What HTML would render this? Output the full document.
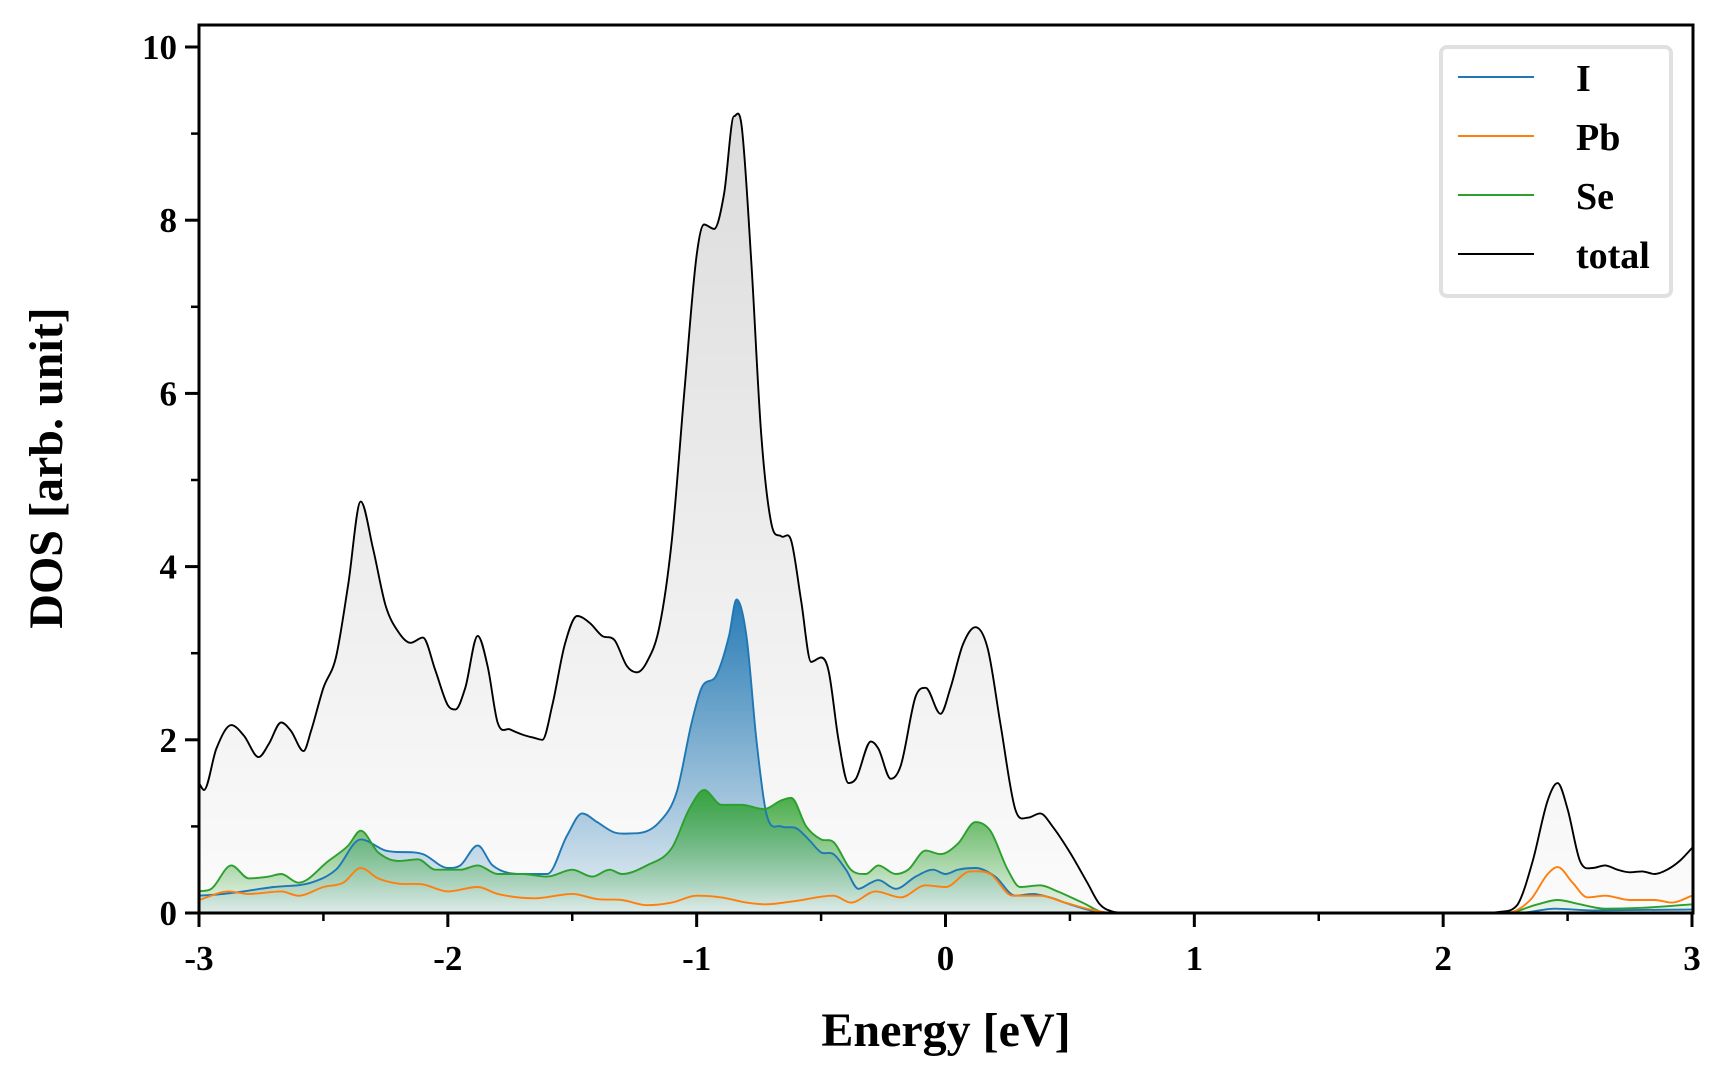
<!DOCTYPE html>
<html><head><meta charset="utf-8"><style>
html,body{margin:0;padding:0;background:#fff;}
svg{display:block;font-family:"Liberation Serif",serif;font-weight:bold;}
</style></head><body>
<svg id="chart" width="1728" height="1080" viewBox="0 0 1728 1080" xmlns="http://www.w3.org/2000/svg">
<defs>
<linearGradient id="gTot" x1="0" y1="0" x2="0" y2="1"><stop offset="0" stop-color="#dcdcdc"/><stop offset="1" stop-color="#fbfbfb"/></linearGradient>
<linearGradient id="gI" x1="0" y1="0" x2="0" y2="1"><stop offset="0" stop-color="#1f77b4" stop-opacity="0.95"/><stop offset="1" stop-color="#1f77b4" stop-opacity="0.08"/></linearGradient>
<linearGradient id="gSe" x1="0" y1="0" x2="0" y2="1"><stop offset="0" stop-color="#2ca02c" stop-opacity="0.9"/><stop offset="1" stop-color="#2ca02c" stop-opacity="0.05"/></linearGradient>
<clipPath id="plotClip"><rect x="199" y="25" width="1494" height="889"/></clipPath>
</defs>
<g id="fills" clip-path="url(#plotClip)"></g>
<g id="lines" clip-path="url(#plotClip)"></g>
<g id="axes"></g>
<rect x="1441" y="47" width="230" height="249" rx="6" fill="#fff" stroke="#e0e0e0" stroke-width="4"/>
<line x1="1458" y1="77" x2="1534" y2="77" stroke="#1f77b4" stroke-width="2"/>
<text x="1576" y="91" font-size="38">I</text>
<line x1="1458" y1="136" x2="1534" y2="136" stroke="#ff7f0e" stroke-width="2"/>
<text x="1576" y="150" font-size="38">Pb</text>
<line x1="1458" y1="195" x2="1534" y2="195" stroke="#2ca02c" stroke-width="2"/>
<text x="1576" y="209" font-size="38">Se</text>
<line x1="1458" y1="254" x2="1534" y2="254" stroke="#000" stroke-width="2"/>
<text x="1576" y="268" font-size="38">total</text>
<text x="946" y="1046" font-size="48" text-anchor="middle">Energy [eV]</text>
<text x="0" y="0" font-size="48" text-anchor="middle" transform="translate(62,468) rotate(-90)">DOS [arb. unit]</text>
</svg>
<script>
const totalE=[-3,-2.98,-2.93,-2.87,-2.82,-2.76,-2.72,-2.67,-2.63,-2.58,-2.55,-2.5,-2.45,-2.4,-2.35,-2.3,-2.25,-2.2,-2.15,-2.1,-2.05,-2.0,-1.97,-1.93,-1.88,-1.84,-1.8,-1.75,-1.7,-1.65,-1.62,-1.58,-1.53,-1.48,-1.43,-1.38,-1.33,-1.28,-1.24,-1.2,-1.15,-1.1,-1.05,-1.0,-0.97,-0.93,-0.89,-0.85,-0.82,-0.78,-0.74,-0.7,-0.66,-0.62,-0.58,-0.54,-0.5,-0.47,-0.43,-0.39,-0.36,-0.3,-0.27,-0.22,-0.18,-0.12,-0.08,-0.02,0.02,0.07,0.12,0.17,0.22,0.28,0.33,0.38,0.43,0.5,0.57,0.62,0.68,0.75,2.15,2.22,2.3,2.36,2.42,2.46,2.5,2.55,2.6,2.65,2.7,2.75,2.8,2.85,2.9,2.95,3.0];
const totalV=[1.5,1.42,1.9,2.17,2.05,1.8,1.95,2.2,2.1,1.87,2.1,2.6,2.95,3.8,4.75,4.2,3.55,3.25,3.12,3.18,2.8,2.4,2.35,2.6,3.2,2.85,2.2,2.12,2.06,2.02,2.0,2.4,3.1,3.43,3.35,3.2,3.15,2.85,2.78,2.9,3.3,4.3,6.0,7.6,7.95,7.9,8.3,9.2,9.1,7.5,5.5,4.5,4.35,4.3,3.6,2.9,2.95,2.8,2.0,1.5,1.55,1.98,1.9,1.55,1.7,2.5,2.6,2.3,2.6,3.1,3.3,3.05,2.2,1.2,1.1,1.15,1.0,0.7,0.35,0.1,0.01,0,0,0.01,0.1,0.6,1.3,1.5,1.2,0.6,0.52,0.55,0.5,0.47,0.48,0.45,0.5,0.6,0.75];
const iE=[-3,-2.9,-2.7,-2.55,-2.45,-2.35,-2.25,-2.1,-2.0,-1.95,-1.88,-1.82,-1.7,-1.6,-1.52,-1.46,-1.4,-1.33,-1.25,-1.15,-1.08,-1.02,-0.98,-0.92,-0.87,-0.84,-0.8,-0.76,-0.72,-0.66,-0.6,-0.55,-0.5,-0.45,-0.4,-0.35,-0.3,-0.27,-0.2,-0.12,-0.05,0.0,0.05,0.12,0.2,0.28,0.35,0.42,0.5,0.6,0.68,2.3,2.45,2.6,3.0];
const iV=[0.2,0.22,0.3,0.35,0.5,0.85,0.72,0.68,0.52,0.55,0.78,0.55,0.45,0.45,0.9,1.15,1.05,0.93,0.92,1.05,1.4,2.2,2.6,2.75,3.2,3.62,3.2,2.0,1.15,1.0,0.98,0.85,0.7,0.68,0.5,0.28,0.35,0.38,0.28,0.42,0.5,0.45,0.5,0.52,0.42,0.2,0.22,0.18,0.1,0.02,0,0,0.05,0.03,0.04];
const pbE=[-3,-2.88,-2.8,-2.67,-2.6,-2.5,-2.42,-2.35,-2.28,-2.2,-2.1,-2.0,-1.88,-1.8,-1.65,-1.5,-1.4,-1.3,-1.2,-1.1,-1.0,-0.9,-0.8,-0.72,-0.6,-0.45,-0.38,-0.28,-0.18,-0.08,0.0,0.1,0.18,0.27,0.38,0.48,0.6,0.68,2.25,2.35,2.42,2.46,2.52,2.58,2.65,2.75,2.85,2.92,3.0];
const pbV=[0.15,0.25,0.22,0.25,0.2,0.3,0.35,0.52,0.4,0.34,0.33,0.25,0.3,0.22,0.17,0.22,0.16,0.15,0.09,0.12,0.2,0.18,0.12,0.1,0.14,0.2,0.12,0.25,0.18,0.32,0.3,0.48,0.45,0.2,0.2,0.12,0.03,0,0,0.15,0.45,0.53,0.35,0.18,0.2,0.15,0.15,0.12,0.2];
const seE=[-3,-2.95,-2.87,-2.8,-2.72,-2.67,-2.6,-2.48,-2.4,-2.35,-2.28,-2.2,-2.12,-2.05,-1.95,-1.88,-1.8,-1.7,-1.6,-1.5,-1.42,-1.35,-1.3,-1.2,-1.1,-1.03,-0.97,-0.9,-0.82,-0.73,-0.66,-0.62,-0.56,-0.5,-0.45,-0.38,-0.32,-0.27,-0.2,-0.15,-0.08,-0.02,0.05,0.12,0.18,0.25,0.3,0.38,0.45,0.55,0.65,2.25,2.38,2.46,2.55,2.65,2.8,3.0];
const seV=[0.25,0.28,0.55,0.4,0.42,0.45,0.35,0.6,0.78,0.95,0.7,0.6,0.62,0.5,0.5,0.55,0.45,0.45,0.42,0.5,0.42,0.5,0.45,0.55,0.75,1.2,1.42,1.25,1.25,1.2,1.3,1.33,1.0,0.85,0.82,0.5,0.45,0.55,0.45,0.5,0.72,0.68,0.8,1.05,0.95,0.5,0.3,0.32,0.25,0.12,0,0,0.1,0.15,0.1,0.05,0.06,0.1];
const yTicks=[0,2,4,6,8,10];
const xTicks=[-3,-2,-1,0,1,2,3];

const X0=199,X1=1692,Y0=913,Y10=47;
const xs=e=>X0+(e+3)/6*(X1-X0);
const ys=v=>Y0+(Y10-Y0)*v/10;
const NS="http://www.w3.org/2000/svg";
function smooth(E,V){
  const n=E.length,p=E.map((e,i)=>[xs(e),ys(V[i])]);
  const d=[];for(let i=0;i<n-1;i++)d.push((p[i+1][1]-p[i][1])/(p[i+1][0]-p[i][0]));
  const m=p.map((_,i)=>{
    if(i===0)return d[0];if(i===n-1)return d[n-2];
    if(d[i-1]*d[i]<=0)return 0;
    return (d[i-1]+d[i])/2;
  });
  let s="M"+p[0][0].toFixed(1)+","+p[0][1].toFixed(1);
  for(let i=0;i<n-1;i++){
    const h=(p[i+1][0]-p[i][0])/3;
    const c1y=Math.min(p[i][1]+m[i]*h,Y0),c2y=Math.min(p[i+1][1]-m[i+1]*h,Y0);
    s+=" C"+(p[i][0]+h).toFixed(1)+","+c1y.toFixed(1)+" "+(p[i+1][0]-h).toFixed(1)+","+c2y.toFixed(1)+" "+p[i+1][0].toFixed(1)+","+p[i+1][1].toFixed(1);
  }
  return s;
}
const fills=document.getElementById('fills'),lines=document.getElementById('lines'),axes=document.getElementById('axes');
function series(E,V,color,grad,name){
  const d=smooth(E,V);
  if(grad){
    const f=document.createElementNS(NS,'path');
    f.setAttribute('d',d+" L"+xs(E[E.length-1])+","+Y0+" L"+xs(E[0])+","+Y0+" Z");
    f.setAttribute('fill','url(#'+grad+')');
    
    
    fills.appendChild(f);
  }
  const l=document.createElementNS(NS,'path');
  l.setAttribute('d',d);l.setAttribute('fill','none');l.setAttribute('stroke',color);l.setAttribute('stroke-width','1.9');
  
  
  lines.appendChild(l);
}
series(totalE,totalV,'#000','gTot','total');
series(iE,iV,'#1f77b4','gI','i');
series(seE,seV,'#2ca02c','gSe','se');
series(pbE,pbV,'#ff7f0e',null,'pb');
function mk(tag,attrs,name,parent){
  const el=document.createElementNS(NS,tag);
  for(const k in attrs)el.setAttribute(k,attrs[k]);
  
  
  (parent||axes).appendChild(el);return el;
}
mk('rect',{x:X0,y:25,width:1693-X0,height:Y0-25,fill:'none',stroke:'#000','stroke-width':3},'plot-frame');
yTicks.forEach(v=>{
  mk('line',{x1:X0-14,x2:X0,y1:ys(v),y2:ys(v),stroke:'#000','stroke-width':3},'y-tick');
  const t=mk('text',{x:X0-22,y:ys(v)+12,'font-size':35,'text-anchor':'end'},'y-tick-label');t.textContent=v;
});
for(let v=1;v<10;v+=2)mk('line',{x1:X0-8,x2:X0,y1:ys(v),y2:ys(v),stroke:'#000','stroke-width':2.5},'y-minor-tick');
xTicks.forEach(e=>{
  mk('line',{x1:xs(e),x2:xs(e),y1:Y0,y2:Y0+14,stroke:'#000','stroke-width':3},'x-tick');
  const t=mk('text',{x:xs(e),y:Y0+57,'font-size':35,'text-anchor':'middle'},'x-tick-label');t.textContent=e;
});
for(let e=-2.5;e<3;e+=1)mk('line',{x1:xs(e),x2:xs(e),y1:Y0,y2:Y0+8,stroke:'#000','stroke-width':2.5},'x-minor-tick');
</script>
</body></html>
